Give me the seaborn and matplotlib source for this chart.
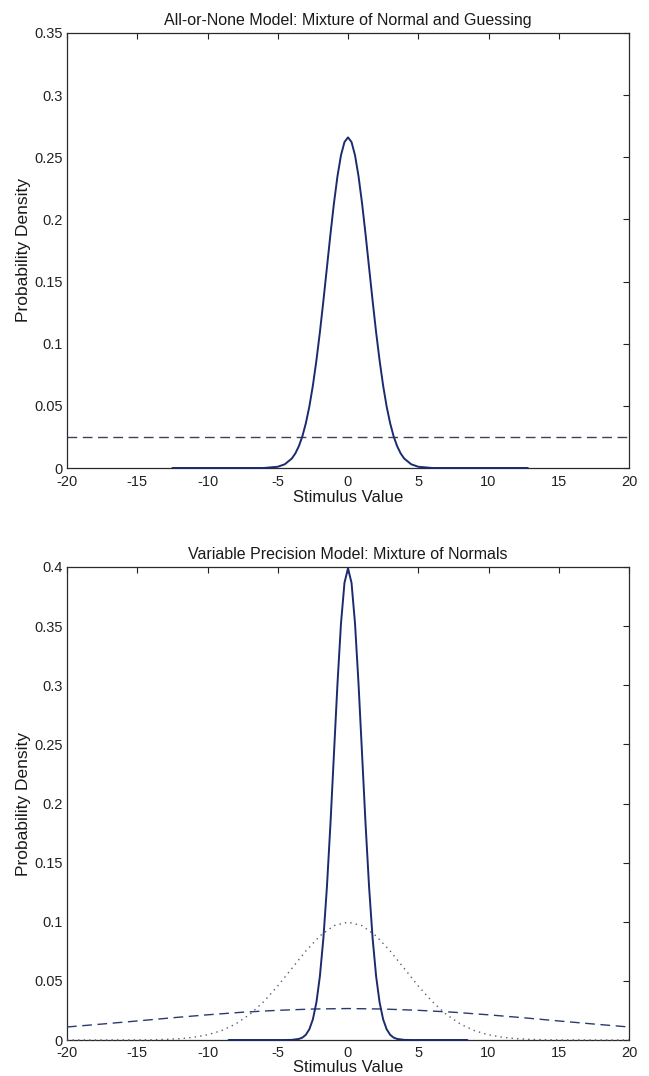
import numpy as np
import pandas as pd
import matplotlib
matplotlib.use("Agg")
import matplotlib.pyplot as plt
import seaborn as sns

# ---- data ----
top_title = "All-or-None Model: Mixture of Normal and Guessing"
bot_title = "Variable Precision Model: Mixture of Normals"
xlabel = "Stimulus Value"
ylabel = "Probability Density"

# top: normal component (solid)
top_norm_x = [-12.5, -10, -7.5, -6, -5, -4.5, -4, -3.75, -3.5, -3.25, -3, -2.75, -2.5, -2.25, -2,
              -1.75, -1.5, -1.25, -1, -0.75, -0.5, -0.25, 0,
              0.25, 0.5, 0.75, 1, 1.25, 1.5, 1.75, 2, 2.25, 2.5, 2.75, 3, 3.25, 3.5, 3.75, 4,
              4.5, 5, 6, 7.5, 10, 12.8]
top_norm_y = [0, 0, 0, 0, 0.001, 0.003, 0.0076, 0.0117, 0.0175, 0.0254, 0.036, 0.0495, 0.0663, 0.0864, 0.1093,
              0.1347, 0.1613, 0.188, 0.213, 0.2347, 0.2516, 0.2623, 0.266,
              0.2623, 0.2516, 0.2347, 0.213, 0.188, 0.1613, 0.1347, 0.1093, 0.0864, 0.0663, 0.0495, 0.036,
              0.0254, 0.0175, 0.0117, 0.0076, 0.003, 0.001, 0, 0, 0, 0]
# top: guessing component (dashed, uniform)
top_guess_x = [-20, 20]
top_guess_y = [0.025, 0.025]

# bottom: narrow normal (solid)
bot_narrow_x = [-8.5, -6, -4.5, -4, -3.5, -3.25, -3, -2.75, -2.5, -2.25, -2, -1.75, -1.5, -1.25, -1,
                -0.75, -0.5, -0.25, 0,
                0.25, 0.5, 0.75, 1, 1.25, 1.5, 1.75, 2, 2.25, 2.5, 2.75, 3, 3.25, 3.5, 4, 4.5, 6, 8.5]
bot_narrow_y = [0, 0, 0, 0.0001, 0.0009, 0.002, 0.0044, 0.0091, 0.0175, 0.0317, 0.054, 0.0863, 0.1295,
                0.1826, 0.242, 0.3011, 0.3521, 0.3867, 0.3989,
                0.3867, 0.3521, 0.3011, 0.242, 0.1826, 0.1295, 0.0863, 0.054, 0.0317, 0.0175, 0.0091,
                0.0044, 0.002, 0.0009, 0.0001, 0, 0, 0]
# bottom: medium normal (dotted)
bot_mid_x = [-20, -18, -16, -15, -14, -13, -12, -11, -10, -9, -8, -7, -6, -5, -4, -3, -2, -1, 0,
             1, 2, 3, 4, 5, 6, 7, 8, 9, 10, 11, 12, 13, 14, 15, 16, 18, 20]
bot_mid_y = [0, 0, 0.0001, 0.0001, 0.0002, 0.0005, 0.0011, 0.0023, 0.0044, 0.0079, 0.0135, 0.0216,
             0.0324, 0.0457, 0.0605, 0.0753, 0.088, 0.0967, 0.0997,
             0.0967, 0.088, 0.0753, 0.0605, 0.0457, 0.0324, 0.0216, 0.0135, 0.0079, 0.0044, 0.0023,
             0.0011, 0.0005, 0.0002, 0.0001, 0.0001, 0, 0]
# bottom: wide normal (dashed)
bot_wide_x = [-20, -17.5, -15, -12.5, -10, -7.5, -5, -2.5, 0, 2.5, 5, 7.5, 10, 12.5, 15, 17.5, 20]
bot_wide_y = [0.011, 0.0135, 0.0161, 0.0188, 0.0213, 0.0235, 0.0251, 0.0262, 0.0266,
              0.0262, 0.0251, 0.0235, 0.0213, 0.0188, 0.0161, 0.0135, 0.011]

x_ticks = [-20, -15, -10, -5, 0, 5, 10, 15, 20]
top_yticks = [0, 0.05, 0.1, 0.15, 0.2, 0.25, 0.3, 0.35]
top_yticklabels = ["0", "0.05", "0.1", "0.15", "0.2", "0.25", "0.3", "0.35"]
bot_yticks = [0, 0.05, 0.1, 0.15, 0.2, 0.25, 0.3, 0.35, 0.4]
bot_yticklabels = ["0", "0.05", "0.1", "0.15", "0.2", "0.25", "0.3", "0.35", "0.4"]

# ---- style ----
sns.set_style("white")
plt.rcParams["font.family"] = ["Liberation Sans", "DejaVu Sans"]
plt.rcParams["font.size"] = 10.5

navy = "#1c2a6e"
dash_top = "#4a3b5c"
dash_bot = "#2c3a6a"
dot_col = "#5a5a78"
txt = "#1a1a1a"

fig = plt.figure(figsize=(6.49, 10.76), dpi=100)
W, H = 649, 1076

def make_ax(left, right, top, bottom):
    return fig.add_axes([left / W, 1 - bottom / H, (right - left) / W, (bottom - top) / H])

ax1 = make_ax(67, 629, 33, 468)
ax2 = make_ax(67, 629, 567, 1040)

def style(ax, title, yticks, ylabels, ymax, xpad, labelpad):
    ax.set_xlim(-20, 20)
    ax.set_ylim(0, ymax)
    ax.set_xticks(x_ticks)
    ax.set_xticklabels([str(t) for t in x_ticks])
    ax.set_yticks(yticks)
    ax.set_yticklabels(ylabels)
    ax.tick_params(direction="in", length=4, width=0.8, top=True, right=True,
                   labelsize=10.5, colors="#222222")
    ax.tick_params(axis="x", pad=xpad)
    ax.tick_params(axis="y", pad=3)
    for s in ax.spines.values():
        s.set_visible(True)
        s.set_color("#2a2a2a")
        s.set_linewidth(0.9)
    ax.set_title(title, fontsize=11.5, color=txt, pad=6)
    ax.set_xlabel(xlabel, fontsize=12, color=txt, labelpad=labelpad)
    ax.set_ylabel(ylabel, fontsize=12.5, color=txt, labelpad=2)
    ax.set_facecolor("white")
    if ax.get_legend() is not None:
        ax.get_legend().remove()

df_tn = pd.DataFrame({"x": top_norm_x, "y": top_norm_y})
df_tg = pd.DataFrame({"x": top_guess_x, "y": top_guess_y})
sns.lineplot(data=df_tg, x="x", y="y", ax=ax1, color=dash_top, lw=1.0,
             linestyle=(0, (7, 4)), sort=False)
sns.lineplot(data=df_tn, x="x", y="y", ax=ax1, color=navy, lw=1.4, sort=False)
for line in ax1.lines:
    line.set_clip_on(False)
    line.set_zorder(3)
style(ax1, top_title, top_yticks, top_yticklabels, 0.35, 5, 1)

df_bn = pd.DataFrame({"x": bot_narrow_x, "y": bot_narrow_y})
df_bm = pd.DataFrame({"x": bot_mid_x, "y": bot_mid_y})
df_bw = pd.DataFrame({"x": bot_wide_x, "y": bot_wide_y})
sns.lineplot(data=df_bw, x="x", y="y", ax=ax2, color=dash_bot, lw=1.0,
             linestyle=(0, (7, 4)), sort=False)
sns.lineplot(data=df_bm, x="x", y="y", ax=ax2, color=dot_col, lw=1.0,
             linestyle=(0, (1, 3)), sort=False)
sns.lineplot(data=df_bn, x="x", y="y", ax=ax2, color=navy, lw=1.4, sort=False)
for line in ax2.lines:
    line.set_clip_on(False)
    line.set_zorder(3)
style(ax2, bot_title, bot_yticks, bot_yticklabels, 0.4, 4, 0)

fig.savefig("out.png", dpi=100, facecolor="white")
